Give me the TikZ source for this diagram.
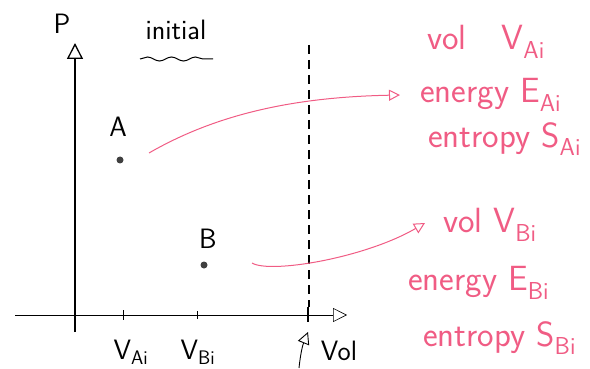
\documentclass[tikz,border=0pt]{standalone}
\usetikzlibrary{arrows.meta,decorations.pathmorphing}
\definecolor{pinkink}{RGB}{240,92,132}
\tikzset{
  opentip/.style={-{Triangle[open,length=#1,width=#1]}},
  ink/.style={pinkink,line width=1pt},
  blbl/.style={font=\sffamily\fontsize{28}{30}\selectfont},
  plbl/.style={text=pinkink,anchor=west,inner sep=0pt,font=\sffamily\fontsize{35}{37}\selectfont},
  dot/.style={circle,fill=black!75,inner sep=0pt,minimum size=7pt},
  tick/.style={line width=0.8pt},
}
\begin{document}
\begin{tikzpicture}[x=1pt,y=-1pt]
\useasboundingbox (0,0) rectangle (590,369);
% axes
\coordinate (ybot) at (75,332);
\coordinate (ytop) at (75,43);
\coordinate (xleft) at (15,315);
\coordinate (xright) at (347,315);
\draw[line width=1.3pt,opentip=16pt] (ybot) -- (ytop);
\draw[line width=0.6pt,opentip=14pt] (xleft) -- (xright);
\node[blbl] (p) at (62,24) {P};
\node[blbl] (init) at (176,30) {initial};
\draw[line width=1pt,decorate,decoration={snake,amplitude=2pt,segment length=24pt}] (140,59) -- (213,59);
% ticks and the wall
\draw[tick] (123,310) -- (123,320);
\draw[tick] (197,311) -- (197,319);
\draw[line width=1.3pt] (308,307) -- (308,322);
\draw[line width=1.3pt,dash pattern=on 9pt off 6pt] (309,45) -- (309,307);
\node[blbl] (vai) at (131,352) {V\textsubscript{Ai}};
\node[blbl] (vbi) at (198,352) {V\textsubscript{Bi}};
\node[blbl] (vol) at (339,351) {Vol};
\coordinate (wallfoot) at (299,368);
\coordinate (wallhead) at (308,332);
\draw[line width=0.9pt,opentip=12pt] (wallfoot) to[bend left=8] (wallhead);
% states A and B
\node[dot] (ptA) at (120,160) {};
\node[blbl] (labA) at (118,127) {A};
\node[dot] (ptB) at (204,265) {};
\node[blbl] (labB) at (208,239) {B};
% pink notes
\node[plbl] (vA) at (427,42) {vol\quad V\textsubscript{Ai}};
\node[plbl] (eA) at (420,95) {energy E\textsubscript{Ai}};
\node[plbl] (sA) at (428,139) {entropy S\textsubscript{Ai}};
\node[plbl] (vB) at (443,225) {vol V\textsubscript{Bi}};
\node[plbl] (eB) at (408,283) {energy E\textsubscript{Bi}};
\node[plbl] (sB) at (423,338) {entropy S\textsubscript{Bi}};
\draw[ink,opentip=11pt] ([shift={(29,-7)}]ptA.center)
  .. controls (220,112) and (300,97) .. ([xshift=-20pt]eA.west);
\draw[ink,opentip=11pt] ([shift={(48,-2)}]ptB.center)
  .. controls (270,274) and (365,258) .. ([shift={(-18pt,2pt)}]vB.west);
\end{tikzpicture}
\end{document}
